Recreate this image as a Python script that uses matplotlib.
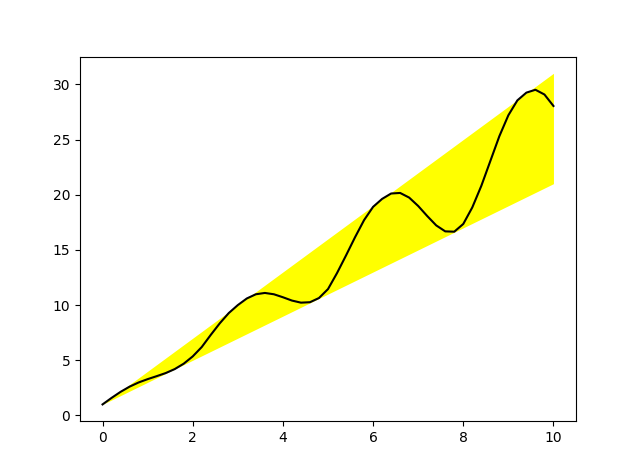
import matplotlib
matplotlib.use("Agg")
import matplotlib.pyplot as plt

# band edges (straight lines)
band_x = [0, 10]
band_lower = [1, 21]
band_upper = [1, 31]

# curve values
curve_x = [0.0, 0.2, 0.4, 0.6, 0.8, 1.0, 1.2, 1.4, 1.6, 1.8,
           2.0, 2.2, 2.4, 2.6, 2.8, 3.0, 3.2, 3.4, 3.6, 3.8,
           4.0, 4.2, 4.4, 4.6, 4.8, 5.0, 5.2, 5.4, 5.6, 5.8,
           6.0, 6.2, 6.4, 6.6, 6.8, 7.0, 7.2, 7.4, 7.6, 7.8,
           8.0, 8.2, 8.4, 8.6, 8.8, 9.0, 9.2, 9.4, 9.6, 9.8, 10.0]
curve_y = [1.00, 1.59, 2.14, 2.61, 2.99, 3.29, 3.56, 3.84, 4.20, 4.69,
           5.35, 6.20, 7.30, 8.35, 9.28, 10.00, 10.60, 10.98, 11.10, 10.98,
           10.71, 10.41, 10.22, 10.26, 10.64, 11.45, 12.90, 14.50, 16.15, 17.70,
           18.90, 19.62, 20.11, 20.16, 19.74, 18.98, 18.07, 17.22, 16.68, 16.65,
           17.35, 18.85, 20.80, 23.05, 25.30, 27.20, 28.55, 29.25, 29.51, 29.08, 28.04]

fig, ax = plt.subplots(figsize=(6.4, 4.73), dpi=100)
ax.fill_between(band_x, band_lower, band_upper, color="yellow", linewidth=0)
ax.plot(curve_x, curve_y, color="black", linewidth=1.5)
ax.set_xticks([0, 2, 4, 6, 8, 10])
ax.set_yticks([0, 5, 10, 15, 20, 25, 30])
fig.savefig("out.png", dpi=100)
